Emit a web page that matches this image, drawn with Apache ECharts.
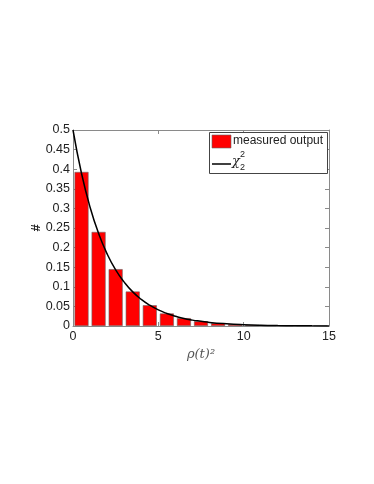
<!DOCTYPE html>
<html>
<head>
<meta charset="utf-8">
<script src="https://cdn.jsdelivr.net/npm/echarts@6/dist/echarts.min.js"></script>
<style>
html,body{margin:0;padding:0;background:#fff;}
#chart{width:374px;height:484px;}
</style>
</head>
<body>
<div id="chart"></div>
<script>
// histogram bins (centres) and measured frequencies
var binCenters = [0.5, 1.5, 2.5, 3.5, 4.5, 5.5, 6.5, 7.5, 8.5, 9.5, 10.5, 11.5, 12.5, 13.5, 14.5];
var measured = [0.393, 0.240, 0.145, 0.088, 0.053, 0.032, 0.020, 0.012, 0.007, 0.0045, 0.0028, 0.0017, 0.001, 0.0006, 0.0004];

// chi-square (2 dof) curve
var curveX = [0, 0.5, 1, 1.5, 2, 2.5, 3, 3.5, 4, 4.5, 5, 5.5, 6, 6.5, 7, 7.5, 8, 9, 10, 11, 12, 13, 14, 15];
var curveY = [0.5, 0.389, 0.303, 0.236, 0.184, 0.143, 0.112, 0.087, 0.068, 0.053, 0.041, 0.032, 0.025, 0.019, 0.015, 0.012, 0.009, 0.0056, 0.0034, 0.002, 0.0012, 0.0008, 0.0005, 0.0003];

var chart = echarts.init(document.getElementById('chart'));

var barData = binCenters.map(function (c, i) { return [c, measured[i]]; });
var lineData = curveX.map(function (x, i) { return [x, curveY[i]]; });

var boxColor = '#8a8a8a';
var labelFont = { color: '#222', fontSize: 12.5, fontFamily: 'Liberation Sans, Arial, sans-serif' };

var option = {
    animation: false,
    grid: { left: 73, top: 130, width: 256, height: 196 },
    xAxis: [{
        type: 'value', min: 0, max: 15, interval: 5,
        axisLine: { show: true, onZero: false, lineStyle: { color: boxColor } },
        axisTick: { inside: true, length: 4, lineStyle: { color: boxColor } },
        axisLabel: Object.assign({ margin: 4 }, labelFont),
        splitLine: { show: false },
        name: 'ρ(t)²', nameLocation: 'middle', nameGap: 22,
        nameTextStyle: { color: '#555', fontSize: 13, fontStyle: 'italic', fontFamily: 'DejaVu Serif, serif' }
    }, {
        type: 'value', position: 'top', min: 0, max: 15, interval: 5,
        axisLine: { show: true, onZero: false, lineStyle: { color: boxColor } },
        axisTick: { inside: true, length: 4, lineStyle: { color: boxColor } },
        axisLabel: { show: false }, splitLine: { show: false }
    }],
    yAxis: [{
        type: 'value', min: 0, max: 0.5, interval: 0.05,
        axisLine: { show: true, onZero: false, lineStyle: { color: boxColor } },
        axisTick: { show: true, inside: true, length: 4, lineStyle: { color: boxColor } },
        axisLabel: Object.assign({ margin: 3 }, labelFont),
        splitLine: { show: false }
    }, {
        type: 'value', position: 'right', min: 0, max: 0.5, interval: 0.05,
        axisLine: { show: true, onZero: false, lineStyle: { color: boxColor } },
        axisTick: { show: true, inside: true, length: 4, lineStyle: { color: boxColor } },
        axisLabel: { show: false }, splitLine: { show: false }
    }],
    series: [{
        name: 'measured output',
        type: 'bar',
        data: barData,
        barWidth: 14,
        itemStyle: { color: '#ff0000', borderColor: '#666', borderWidth: 0.6 }
    }, {
        name: 'χ',
        type: 'line',
        data: lineData,
        smooth: true,
        symbol: 'none',
        lineStyle: { color: '#000', width: 1.5 },
        z: 5
    }],
    graphic: [
        // y axis title
        { type: 'text', x: 36, y: 228, rotation: Math.PI / 2,
          style: { text: '#', fill: '#222', font: 'bold 13px Liberation Sans, Arial, sans-serif', align: 'center', verticalAlign: 'middle' } },
        // legend box
        { type: 'rect', shape: { x: 209.5, y: 132.5, width: 118, height: 41 },
          style: { fill: '#fff', stroke: '#444', lineWidth: 1 }, z: 10 },
        { type: 'rect', shape: { x: 212, y: 135, width: 19, height: 13 },
          style: { fill: '#ff0000', stroke: '#666', lineWidth: 0.6 }, z: 11 },
        { type: 'text', x: 233, y: 141, style: { text: 'measured output', fill: '#222', font: '12px Liberation Sans, Arial, sans-serif', verticalAlign: 'middle' }, z: 11 },
        { type: 'line', shape: { x1: 212, y1: 164, x2: 231, y2: 164 },
          style: { stroke: '#000', lineWidth: 1.5 }, z: 11 },
        { type: 'text', x: 232, y: 162, style: { text: 'χ', fill: '#222', font: 'italic 13px DejaVu Serif, serif', verticalAlign: 'middle' }, z: 11 },
        { type: 'text', x: 240, y: 155, style: { text: '2', fill: '#222', font: '9px Liberation Sans, Arial, sans-serif', verticalAlign: 'middle' }, z: 11 },
        { type: 'text', x: 240, y: 168, style: { text: '2', fill: '#222', font: '9px Liberation Sans, Arial, sans-serif', verticalAlign: 'middle' }, z: 11 }
    ]
};

option && chart.setOption(option);
</script>
</body>
</html>
